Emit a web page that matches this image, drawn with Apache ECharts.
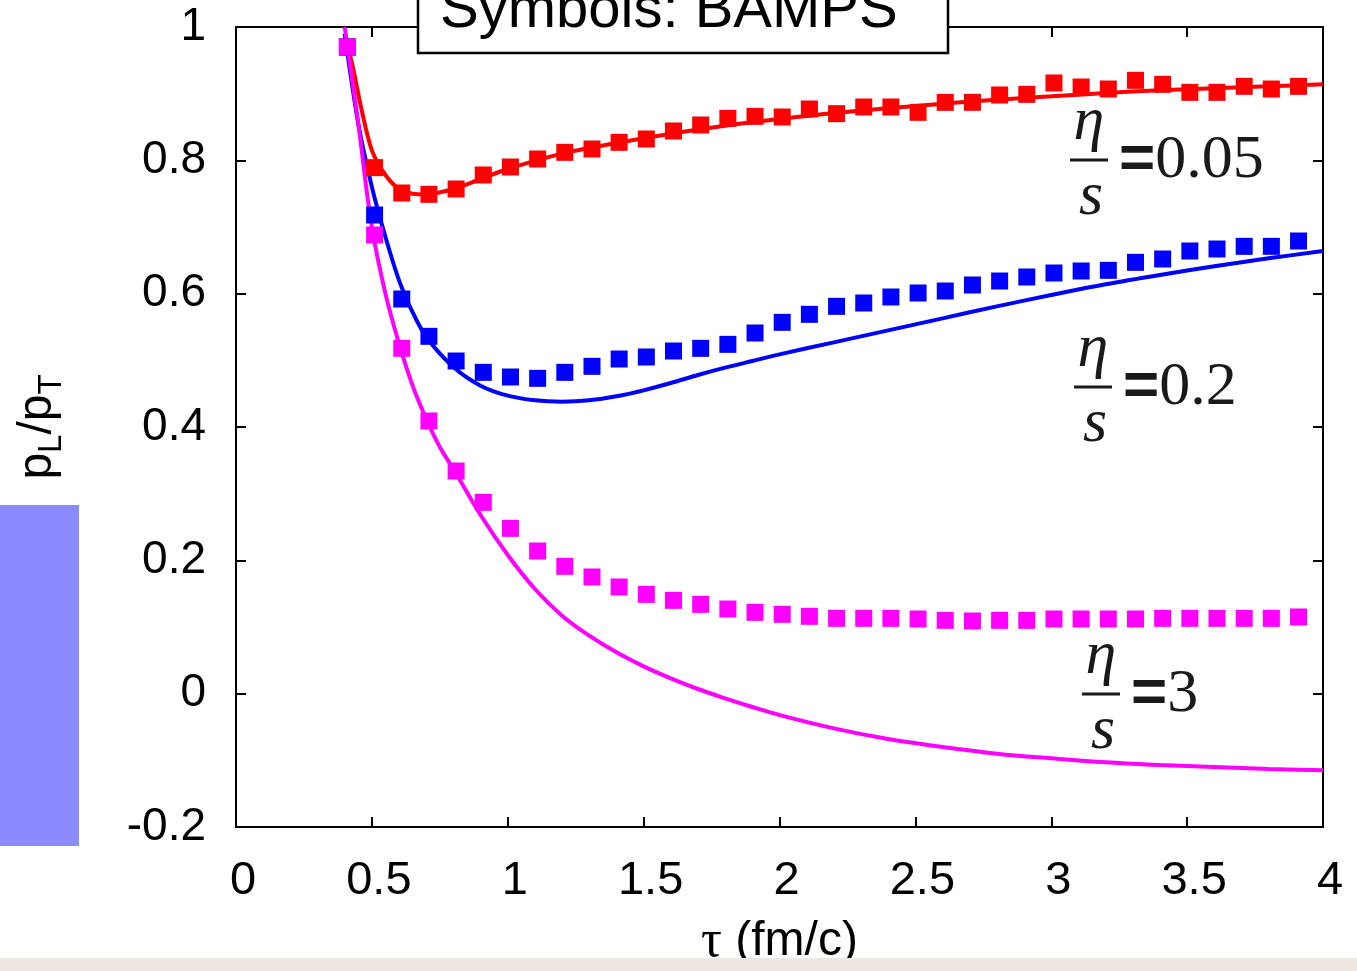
<!DOCTYPE html>
<html>
<head>
<meta charset="utf-8">
<script src="https://cdn.jsdelivr.net/npm/echarts@6/dist/echarts.min.js"></script>
<style>
  html, body { margin: 0; padding: 0; background: #fff; }
  #chart { width: 1357px; height: 971px; }
</style>
</head>
<body>
<div id="chart"></div>
<script>
// BAMPS symbols (tau in fm/c)
const tauSym = [0.41, 0.51, 0.61, 0.71, 0.81, 0.91, 1.01, 1.11, 1.21, 1.31, 1.41, 1.51, 1.61, 1.71, 1.81, 1.91,
    2.01, 2.11, 2.21, 2.31, 2.41, 2.51, 2.61, 2.71, 2.81, 2.91, 3.01, 3.11, 3.21, 3.31, 3.41, 3.51, 3.61, 3.71, 3.81, 3.91];
const bampsRed = [0.970, 0.789, 0.751, 0.749, 0.757, 0.778, 0.790, 0.802, 0.812, 0.817, 0.827, 0.832, 0.844, 0.853, 0.863, 0.866,
    0.865, 0.877, 0.870, 0.880, 0.880, 0.872, 0.887, 0.887, 0.898, 0.899, 0.916, 0.910, 0.907, 0.920, 0.914, 0.902, 0.902, 0.911, 0.907, 0.911];
const bampsBlue = [0.970, 0.718, 0.592, 0.536, 0.499, 0.482, 0.475, 0.473, 0.482, 0.491, 0.502, 0.505, 0.514, 0.518, 0.524, 0.541,
    0.557, 0.569, 0.581, 0.586, 0.595, 0.601, 0.604, 0.613, 0.619, 0.625, 0.631, 0.634, 0.635, 0.647, 0.652, 0.664, 0.667, 0.671, 0.671, 0.679];
const bampsMagenta = [0.970, 0.688, 0.518, 0.409, 0.334, 0.287, 0.248, 0.214, 0.191, 0.175, 0.160, 0.149, 0.140, 0.134, 0.127, 0.122,
    0.119, 0.116, 0.113, 0.113, 0.113, 0.112, 0.110, 0.109, 0.110, 0.110, 0.112, 0.112, 0.112, 0.112, 0.113, 0.113, 0.113, 0.113, 0.113, 0.115];

// hydro curves
const tauRed = [0.4, 0.43, 0.46, 0.5, 0.55, 0.6, 0.65, 0.7, 0.8, 0.9, 1.0, 1.2, 1.4, 1.6, 1.8, 2.0, 2.2, 2.4, 2.6, 2.8, 3.0, 3.2, 3.4, 3.6, 3.8, 4.0];
const hydroRed = [0.99, 0.94, 0.88, 0.815, 0.778, 0.757, 0.750, 0.749, 0.757, 0.772, 0.787, 0.810, 0.826, 0.840, 0.852, 0.862, 0.871, 0.878, 0.885, 0.891, 0.896, 0.901, 0.905, 0.908, 0.911, 0.914];
const tauBlue = [0.4, 0.45, 0.5, 0.55, 0.6, 0.65, 0.7, 0.8, 0.9, 1.0, 1.1, 1.2, 1.3, 1.4, 1.5, 1.6, 1.7, 1.8, 1.9, 2.0, 2.2, 2.4, 2.6, 2.8, 3.0, 3.2, 3.4, 3.6, 3.8, 4.0];
const hydroBlue = [0.99, 0.855, 0.76, 0.685, 0.62, 0.572, 0.535, 0.49, 0.462, 0.447, 0.440, 0.438, 0.440, 0.446, 0.455, 0.466, 0.478, 0.489, 0.499, 0.509, 0.527, 0.545, 0.563, 0.581, 0.598, 0.614, 0.628, 0.641, 0.653, 0.664];
const tauMagenta = [0.4, 0.45, 0.5, 0.55, 0.6, 0.65, 0.7, 0.75, 0.8, 0.9, 1.0, 1.1, 1.2, 1.3, 1.4, 1.5, 1.6, 1.7, 1.8, 1.9, 2.0, 2.2, 2.4, 2.6, 2.8, 3.0, 3.2, 3.4, 3.6, 3.8, 4.0];
const hydroMagenta = [1.0, 0.855, 0.70, 0.60, 0.525, 0.462, 0.412, 0.370, 0.337, 0.268, 0.208, 0.157, 0.117, 0.087, 0.062, 0.041, 0.023, 0.007, -0.007, -0.020, -0.032, -0.052, -0.068, -0.080, -0.090, -0.097, -0.103, -0.107, -0.110, -0.113, -0.115];

const curveLabels = ["0.05", "0.2", "3"];

const pairs = (xs, ys) => xs.map((x, i) => [x, ys[i]]);

const serif = "'Liberation Serif', 'DejaVu Serif', serif";
const sans = "'Liberation Sans', Arial, sans-serif";

// eta/s = value, drawn as a small fraction
const fracLabel = (cx, cy, value) => [
    { type: 'text', x: cx, y: cy - 37, z: 50, style: { text: 'η', font: 'italic 62px ' + serif, fill: '#1a1a1a', align: 'center', verticalAlign: 'middle' } },
    { type: 'line', z: 50, shape: { x1: cx - 19, y1: cy, x2: cx + 19, y2: cy }, style: { stroke: '#1a1a1a', lineWidth: 3 } },
    { type: 'text', x: cx + 2, y: cy + 38, z: 50, style: { text: 's', font: 'italic 62px ' + serif, fill: '#1a1a1a', align: 'center', verticalAlign: 'middle' } },
    { type: 'text', x: cx + 30, y: cy + 1, z: 50, style: {
        text: '{eq|=}{v|' + value + '}', fill: '#1a1a1a', align: 'left', verticalAlign: 'middle',
        rich: {
            eq: { fontFamily: sans, fontSize: 62, fontWeight: 'bold', fill: '#1a1a1a' },
            v: { fontFamily: serif, fontSize: 62, fill: '#1a1a1a' }
        }
    } }
];

const frameAxis = (pos) => ({
    type: 'value', min: pos === 'top' || pos === 'bottom' ? 0 : -0.2, max: pos === 'top' || pos === 'bottom' ? 4 : 1,
    interval: pos === 'top' || pos === 'bottom' ? 0.5 : 0.2, position: pos,
    axisLine: { show: true, onZero: false, lineStyle: { color: '#000', width: 2 } },
    axisTick: { show: true, inside: true, length: 10, lineStyle: { color: '#000', width: 2 } },
    axisLabel: { show: false },
    splitLine: { show: false }
});

const chart = echarts.init(document.getElementById('chart'));

chart.setOption({
    animation: false,
    backgroundColor: '#fff',
    grid: { left: 236, right: 34, top: 27, bottom: 144, containLabel: false, outerBoundsMode: 'none' },
    xAxis: [
        Object.assign(frameAxis('bottom'), {
            axisLabel: { show: true, fontFamily: sans, fontSize: 47, color: '#000', margin: 31, padding: [0, 0, 0, 14] },
            name: '{t|τ} (fm/c)', nameLocation: 'middle', nameGap: 89,
            nameTextStyle: { fontFamily: sans, fontSize: 48, color: '#000',
                rich: { t: { fontFamily: serif, fontSize: 52, color: '#000' } } }
        }),
        frameAxis('top')
    ],
    yAxis: [
        Object.assign(frameAxis('left'), {
            axisLabel: { show: true, fontFamily: sans, fontSize: 46, color: '#000', margin: 30, padding: [8, 0, 0, 0] },
            name: '{n|p}{s|L}{n|/p}{s|T}', nameLocation: 'middle', nameRotate: 90, nameGap: 168,
            nameTextStyle: { fontFamily: sans, fontSize: 48, color: '#000',
                rich: {
                    n: { fontFamily: sans, fontSize: 48, lineHeight: 60, color: '#000' },
                    s: { fontFamily: sans, fontSize: 33, lineHeight: 37, verticalAlign: 'bottom', color: '#000' }
                } }
        }),
        frameAxis('right')
    ],
    series: [
        { type: 'line', data: pairs(tauRed, hydroRed), showSymbol: false, smooth: 0.3, lineStyle: { color: '#ff0000', width: 4 }, z: 2 },
        { type: 'line', data: pairs(tauBlue, hydroBlue), showSymbol: false, smooth: 0.3, lineStyle: { color: '#0000ff', width: 4 }, z: 2 },
        { type: 'line', data: pairs(tauMagenta, hydroMagenta), showSymbol: false, smooth: 0.4, lineStyle: { color: '#ff00ff', width: 4 }, z: 2 },
        { type: 'scatter', data: pairs(tauSym, bampsRed), symbol: 'rect', symbolSize: 17, itemStyle: { color: '#ff0000', opacity: 1 }, z: 3 },
        { type: 'scatter', data: pairs(tauSym, bampsBlue), symbol: 'rect', symbolSize: 17, itemStyle: { color: '#0000ff', opacity: 1 }, z: 3 },
        { type: 'scatter', data: pairs(tauSym, bampsMagenta), symbol: 'rect', symbolSize: 17, itemStyle: { color: '#ff00ff', opacity: 1 }, z: 3 }
    ],
    graphic: [
        { type: 'rect', z: 60, shape: { x: 418, y: -20, width: 530, height: 73 }, style: { fill: '#fff', stroke: '#000', lineWidth: 2.5 } },
        { type: 'text', z: 61, x: 440, y: 11, style: { text: 'Symbols: BAMPS', font: '58px ' + sans, fill: '#000', verticalAlign: 'middle' } },
        ...fracLabel(1089, 160, curveLabels[0]),
        ...fracLabel(1093, 387, curveLabels[1]),
        ...fracLabel(1101, 694, curveLabels[2]),
        { type: 'rect', z: 60, shape: { x: 0, y: 505, width: 79, height: 341 }, style: { fill: '#8b8bff' } },
        { type: 'rect', z: 60, shape: { x: 0, y: 958, width: 1357, height: 13 }, style: { fill: '#efe8e2' } }
    ]
});
</script>
</body>
</html>
